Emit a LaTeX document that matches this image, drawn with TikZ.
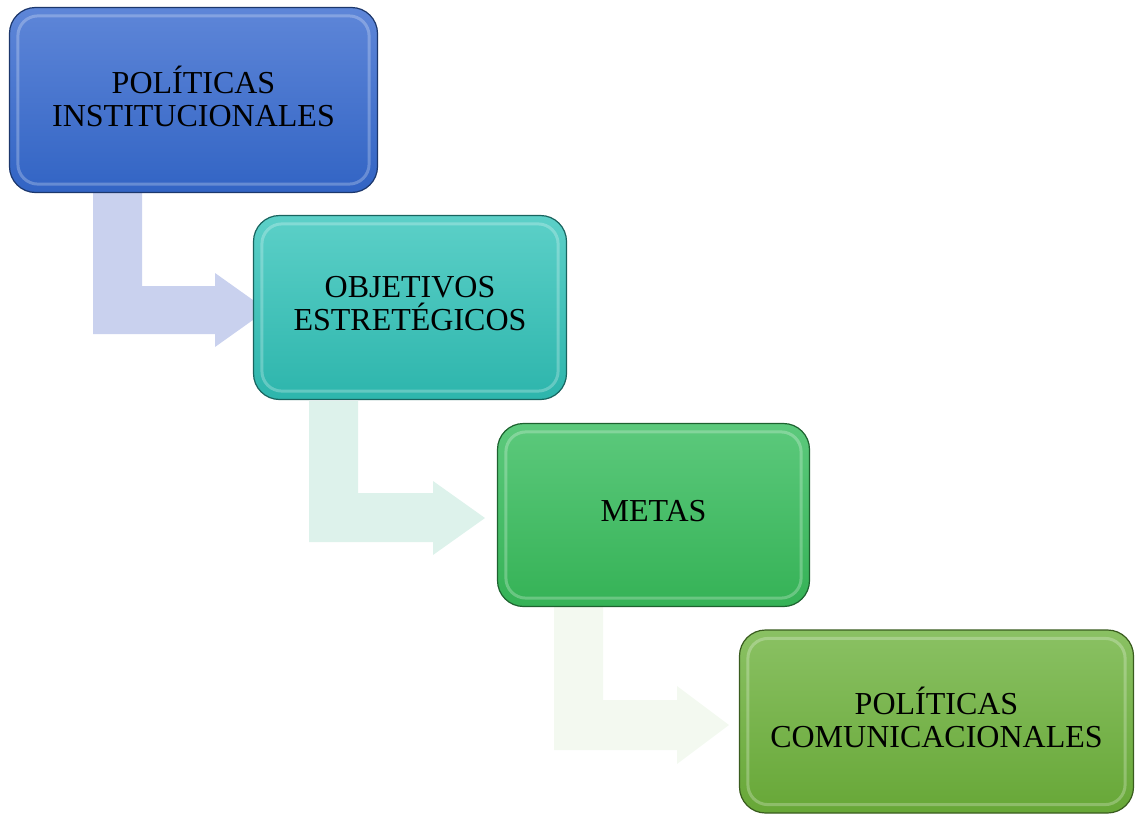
\documentclass[tikz,border=0pt]{standalone}
\usepackage{fontspec}
\setmainfont{Liberation Serif}
\definecolor{aone}{HTML}{C9D1EE}
\definecolor{atwo}{HTML}{DDF2EB}
\definecolor{athree}{HTML}{F3F9F0}
\definecolor{bonetop}{HTML}{5E86D8}
\definecolor{bonebot}{HTML}{3264C4}
\definecolor{btwotop}{HTML}{5CD0C8}
\definecolor{btwobot}{HTML}{2DB5AC}
\definecolor{bthreetop}{HTML}{5CC97C}
\definecolor{bthreebot}{HTML}{35B256}
\definecolor{bfourtop}{HTML}{8AC163}
\definecolor{bfourbot}{HTML}{67A737}
\tikzset{
  stagebox/.style n args={2}{rounded corners=26pt, top color=#1, bottom color=#2,
    draw=#2!55!black, line width=1.2pt, inner sep=0pt},
  stagetext/.style={align=center, font=\fontsize{32}{33}\selectfont, text=black, yshift=4pt},
  bevel/.style={rounded corners=20pt, draw=white, draw opacity=0.25, line width=3pt}
}
\begin{document}
\begin{tikzpicture}[x=1pt,y=-1pt]
\useasboundingbox (0,0) rectangle (1135,814);
% bent arrows (behind boxes)
\fill[aone] (93,193) -- (142,193) -- (142,286) -- (215,286) -- (215,273) -- (267,310) -- (215,347) -- (215,334) -- (93,334) -- cycle;
\fill[atwo] (309,401) -- (358,401) -- (358,493) -- (433,493) -- (433,481) -- (485,518) -- (433,555) -- (433,542) -- (309,542) -- cycle;
\fill[athree] (554,607) -- (603,607) -- (603,700) -- (677,700) -- (677,686) -- (729,725) -- (677,764) -- (677,750) -- (554,750) -- cycle;
% boxes
\node[stagebox={bonetop}{bonebot}, minimum width=368pt, minimum height=185pt,
  label={[stagetext]center:{POLÍTICAS\\INSTITUCIONALES}}] (b1) at (193.5,100) {};
\node[stagebox={btwotop}{btwobot}, minimum width=313pt, minimum height=184pt,
  label={[stagetext]center:{OBJETIVOS\\ESTRETÉGICOS}}] (b2) at (410,307.5) {};
\node[stagebox={bthreetop}{bthreebot}, minimum width=312pt, minimum height=183pt,
  label={[stagetext]center:{METAS}}] (b3) at (653.5,515) {};
\node[stagebox={bfourtop}{bfourbot}, minimum width=394pt, minimum height=183pt,
  label={[stagetext]center:{POLÍTICAS\\COMUNICACIONALES}}] (b4) at (936.5,721.5) {};
% bevel highlights
\foreach \b in {b1,b2,b3,b4}{
  \draw[bevel] ([xshift=9pt,yshift=-9pt]\b.north west) rectangle ([xshift=-9pt,yshift=9pt]\b.south east);
}
\end{tikzpicture}
\end{document}
